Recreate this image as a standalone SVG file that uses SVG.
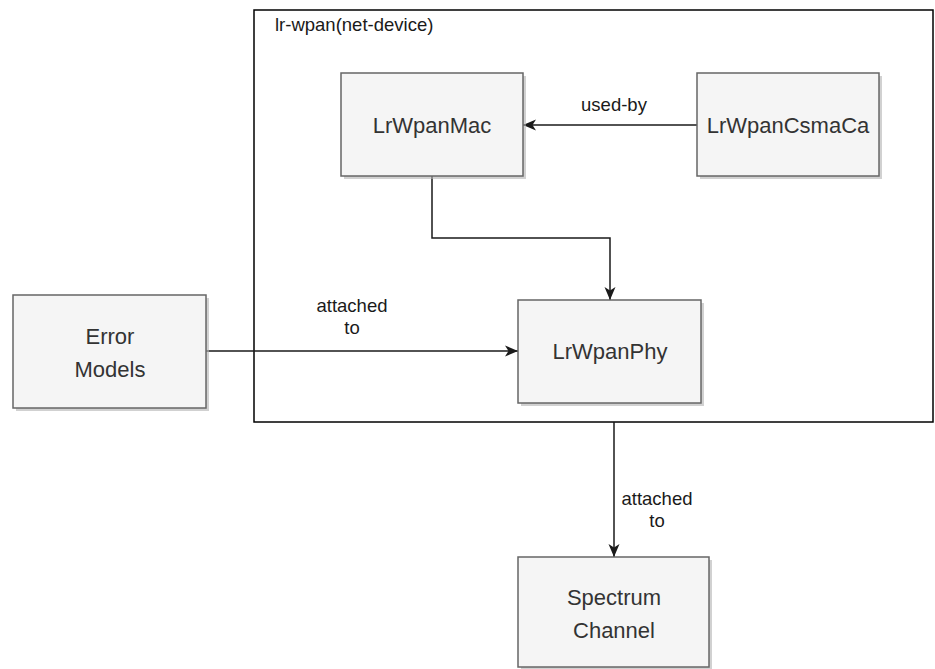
<svg xmlns="http://www.w3.org/2000/svg" width="935" height="669" viewBox="0 0 935 669">
  <defs>
    <style>
      .box { fill: #f5f5f5; stroke: #666666; stroke-width: 1.5; }
      .shadow { fill: #b3b3b3; opacity: 0.6; }
      .frame { fill: none; stroke: #000000; stroke-width: 1.5; }
      .edge { fill: none; stroke: #1a1a1a; stroke-width: 1.5; }
      .node-text { font-family: "Liberation Sans", Arial, sans-serif; font-size: 22px; fill: #333333; text-anchor: middle; }
      .label { font-family: "Liberation Sans", Arial, sans-serif; font-size: 18.5px; fill: #1a1a1a; text-anchor: middle; }
    </style>
    <marker id="arrow" viewBox="0 0 14 14" refX="13" refY="7" markerWidth="14" markerHeight="14" markerUnits="userSpaceOnUse" orient="auto">
      <path d="M0,1.5 L13,7 L0,12.5 L3.5,7 Z" fill="#1a1a1a"/>
    </marker>
  </defs>

  <rect width="935" height="669" fill="#ffffff"/>

  <!-- container frame -->
  <g id="lr-wpan">
    <rect class="frame" x="254" y="10" width="679" height="412"/>
    <text x="275" y="31" class="label" style="text-anchor:start">lr-wpan(net-device)</text>
  </g>

  <!-- connectors -->
  <g id="connectors">
    <path class="edge" d="M697,125 L523,125" marker-end="url(#arrow)"/>
    <text class="label" x="614" y="111">used-by</text>

    <path class="edge" d="M432,176 L432,238 L610,238 L610,300" marker-end="url(#arrow)"/>

    <path class="edge" d="M206,351 L518,351" marker-end="url(#arrow)"/>
    <text class="label" x="352" y="312">attached</text>
    <text class="label" x="352" y="334">to</text>

    <path class="edge" d="M614,422 L614,557" marker-end="url(#arrow)"/>
    <text class="label" x="657" y="505">attached</text>
    <text class="label" x="657" y="527">to</text>
  </g>

  <g id="mac">
    <rect class="shadow" x="344" y="76" width="182" height="103"/>
    <rect class="box" x="341" y="73" width="182" height="103"/>
    <text class="node-text" x="432" y="133">LrWpanMac</text>
  </g>

  <g id="csmaca">
    <rect class="shadow" x="700" y="76" width="182" height="103"/>
    <rect class="box" x="697" y="73" width="182" height="103"/>
    <text class="node-text" x="788" y="133">LrWpanCsmaCa</text>
  </g>

  <g id="error-models">
    <rect class="shadow" x="16" y="298" width="193" height="113"/>
    <rect class="box" x="13" y="295" width="193" height="113"/>
    <text class="node-text" x="110" y="344">Error</text>
    <text class="node-text" x="110" y="377">Models</text>
  </g>

  <g id="phy">
    <rect class="shadow" x="521" y="303" width="183" height="103"/>
    <rect class="box" x="518" y="300" width="183" height="103"/>
    <text class="node-text" x="610" y="359">LrWpanPhy</text>
  </g>

  <g id="spectrum-channel">
    <rect class="shadow" x="521" y="560" width="191" height="110"/>
    <rect class="box" x="518" y="557" width="191" height="110"/>
    <text class="node-text" x="614" y="605">Spectrum</text>
    <text class="node-text" x="614" y="638">Channel</text>
  </g>
</svg>
